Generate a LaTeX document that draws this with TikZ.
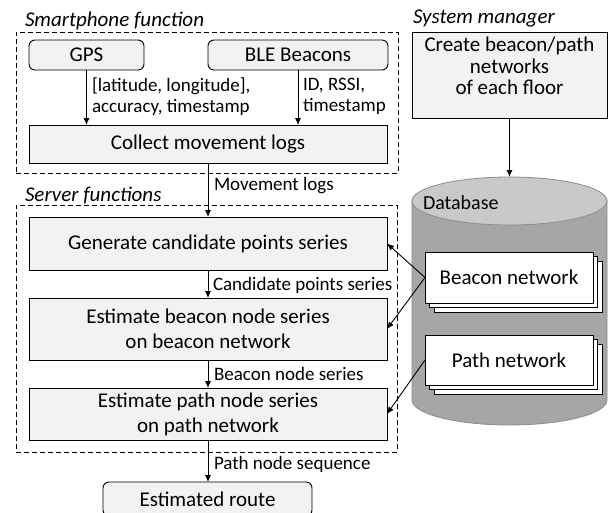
\documentclass[tikz,border=0pt]{standalone}
\usepackage{fontspec}
\setmainfont{Carlito}
\usetikzlibrary{arrows.meta,shadows}

\definecolor{boxfill}{HTML}{F2F2F2}
\definecolor{dbbody}{HTML}{A6A6A6}
\definecolor{dbtopc}{HTML}{C9C9C9}
\definecolor{dbline}{HTML}{8C8C8C}

\begin{document}
\begin{tikzpicture}[x=1pt,y=1pt,
  every node/.style={inner sep=0pt, outer sep=0pt},
  box/.style={draw, line width=0.9pt, fill=boxfill, align=center,
    font=\fontsize{21}{25}\selectfont},
  rbox/.style={box, rounded corners=6pt},
  frame/.style={draw, line width=0.9pt, dash pattern=on 5pt off 3pt},
  grouptitle/.style={anchor=west, font=\fontsize{21}{25}\selectfont\itshape},
  lbl/.style={anchor=west, align=left, font=\fontsize{19}{21.5}\selectfont},
  arr/.style={line width=0.9pt, -{Latex[length=7pt,width=6pt]}},
  netbox/.style={draw, line width=0.9pt, fill=white, minimum width=168,
    minimum height=51, font=\fontsize{21}{25}\selectfont,
    copy shadow={shadow xshift=9pt, shadow yshift=-9pt},
    copy shadow={shadow xshift=4.5pt, shadow yshift=-4.5pt}}
]
\useasboundingbox (0,0) rectangle (608,-512);

% ---- group frames and their titles
\node[frame, minimum width=382, minimum height=141] (smart) at (207,-102.5) {};
\node[frame, minimum width=381, minimum height=247] (server) at (206.5,-328.5) {};
\node[grouptitle] (smartT) at (25,-21) {Smartphone function};
\node[grouptitle] (serverT) at (25,-195) {Server functions};
\node[grouptitle] (sysT) at (413,-18) {System manager};

% ---- smartphone side
\node[rbox, minimum width=115, minimum height=30] (gps) at (86.5,-55) {GPS};
\node[rbox, minimum width=180, minimum height=30] (ble) at (298,-55) {BLE Beacons};
\node[box, minimum width=358, minimum height=38] (collect) at (208,-144) {Collect movement logs};

\draw[arr] (gps.south) -- (gps.south |- collect.north);
\draw[arr] (ble.south) -- (ble.south |- collect.north);
\node[lbl] (gpsL) at (92,-96.5) {[latitude, longitude],\\accuracy, timestamp};
\node[lbl] (bleL) at (303,-96.5) {ID, RSSI,\\timestamp};

% ---- server side
\node[box, minimum width=358, minimum height=53] (gen) at (208,-243.5) {Generate candidate points series};
\node[box, minimum width=358, minimum height=62] (estb) at (208,-329) {Estimate beacon node series\\on beacon network};
\node[box, minimum width=358, minimum height=52] (estp) at (208,-414) {Estimate path node series\\on path network};
\node[rbox, minimum width=209, minimum height=34] (route) at (207.5,-499) {Estimated route};

\draw[arr] (collect) -- (gen);
\draw[arr] (gen) -- (estb);
\draw[arr] (estb) -- (estp);
\draw[arr] (estp.south) -- (estp.south |- route.north);
\node[lbl] (mlL) at (214,-186) {Movement logs};
\node[lbl] (cpL) at (213,-285) {Candidate points series};
\node[lbl] (bnL) at (214,-374) {Beacon node series};
\node[lbl] (pnL) at (214,-464) {Path node sequence};

% ---- system manager and database
\node[box, minimum width=195, minimum height=86] (create) at (509.5,-75) {};
\node[align=center, font=\fontsize{21}{21.5}\selectfont] (createT) at (509.5,-66)
  {Create beacon/path\\networks\\of each floor};
\coordinate (dbtop) at (509.5,-177);

\path[fill=dbbody, draw=dbline, line width=0.8pt]
  (412,-201) -- (412,-400)
  arc[start angle=180, end angle=360, x radius=97.5, y radius=25]
  -- (607,-201) -- cycle;
\draw[fill=dbtopc, draw=dbline, line width=0.8pt]
  (509.5,-201) ellipse[x radius=97.5, y radius=24];
\node[anchor=west, font=\fontsize{20}{24}\selectfont] (dbL) at (423,-203) {Database};

\draw[arr] (create) -- (dbtop);

\node[netbox] (bnet) at (509,-277.5) {Beacon network};
\node[netbox, minimum height=50] (pnet) at (509,-360) {Path network};

\draw[arr] (bnet.west) -- (gen.east);
\draw[arr] (bnet.west) -- (estb.east);
\draw[arr] (pnet.west) -- (estp.east);
\end{tikzpicture}
\end{document}
